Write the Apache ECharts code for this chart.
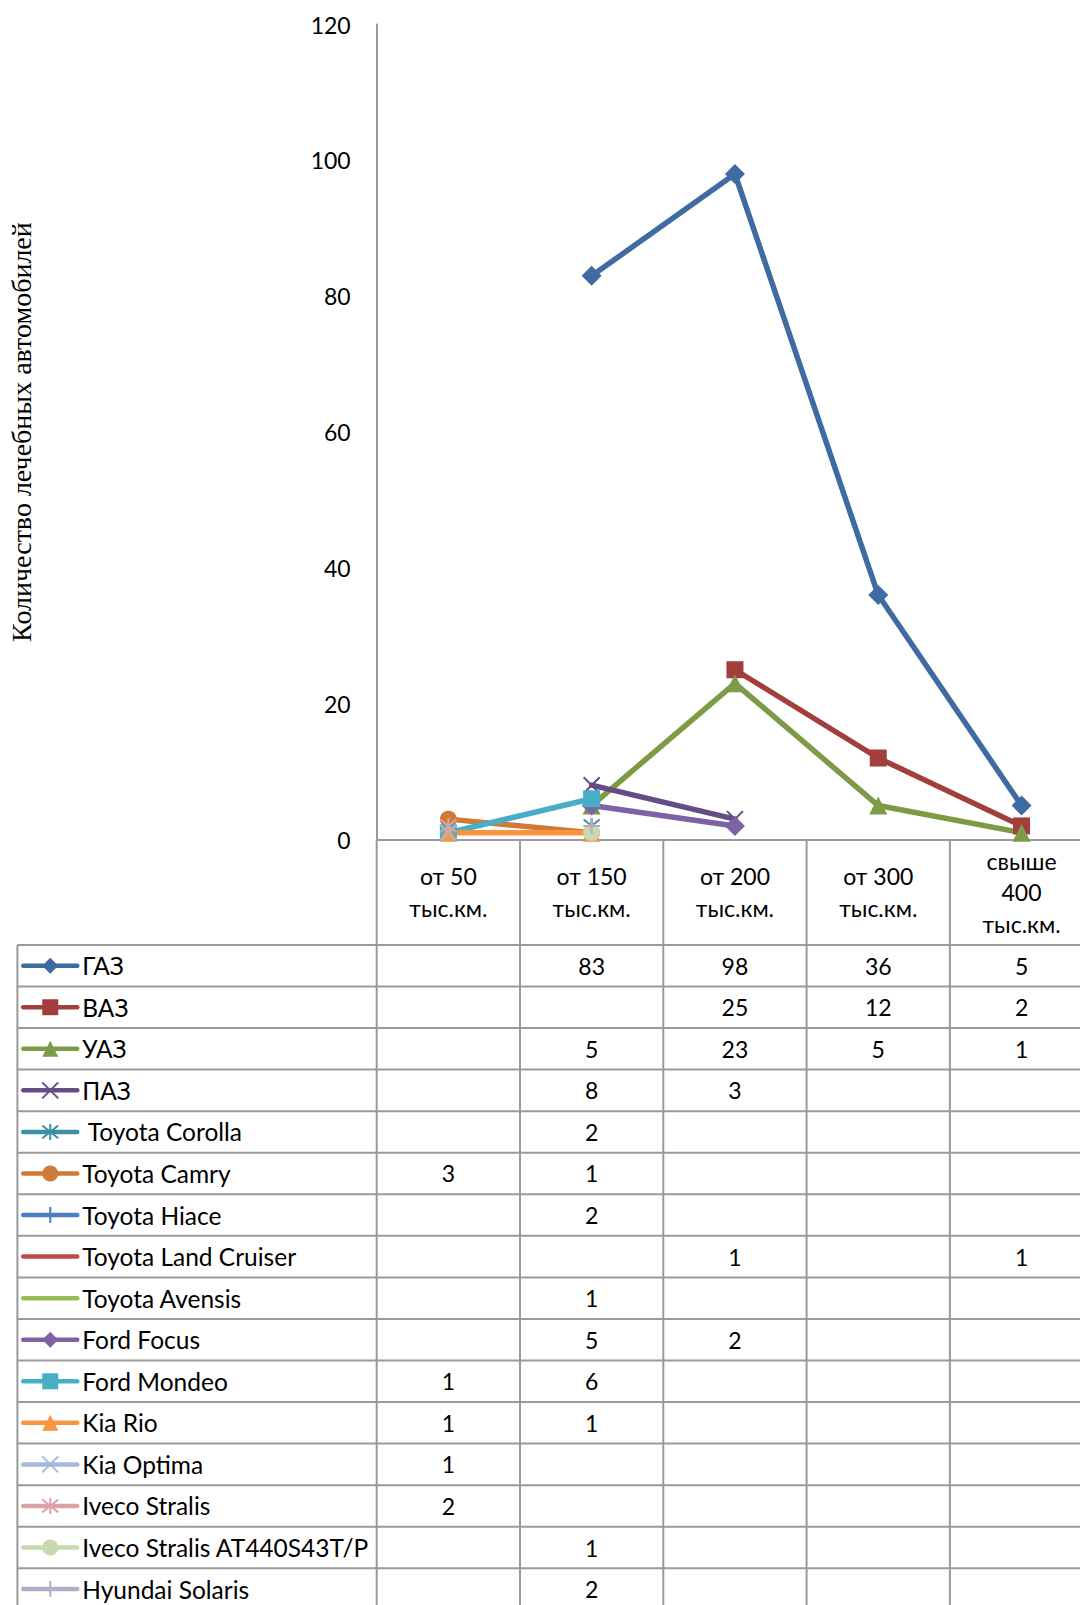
<!DOCTYPE html>
<html>
<head>
<meta charset="utf-8">
<title>Количество лечебных автомобилей</title>
<script src="https://cdn.jsdelivr.net/npm/echarts@6/dist/echarts.min.js"></script>
<style>
  html, body { margin: 0; padding: 0; background: #fff; }
  #chart { width: 1080px; height: 1605px; }
</style>
</head>
<body>
<div id="chart"></div>
<script>
// категории пробега
var categories = ['от 50\nтыс.км.', 'от 150\nтыс.км.', 'от 200\nтыс.км.', 'от 300\nтыс.км.', 'свыше\n400\nтыс.км.'];
var yTicks = { min: 0, max: 120, interval: 20 };

var names = ['ГАЗ', 'ВАЗ', 'УАЗ', 'ПАЗ', ' Toyota Corolla', 'Toyota Camry', 'Toyota Hiace',
  'Toyota Land Cruiser', 'Toyota Avensis', 'Ford Focus', 'Ford Mondeo', 'Kia Rio',
  'Kia Optima', 'Iveco Stralis', 'Iveco Stralis AT440S43T/P', 'Hyundai Solaris'];

var gaz          = [null, 83, 98, 36, 5];
var vaz          = [null, null, 25, 12, 2];
var uaz          = [null, 5, 23, 5, 1];
var paz          = [null, 8, 3, null, null];
var corolla      = [null, 2, null, null, null];
var camry        = [3, 1, null, null, null];
var hiace        = [null, 2, null, null, null];
var landCruiser  = [null, null, 1, null, 1];
var avensis      = [null, 1, null, null, null];
var focus        = [null, 5, 2, null, null];
var mondeo       = [1, 6, null, null, null];
var kiaRio       = [1, 1, null, null, null];
var kiaOptima    = [1, null, null, null, null];
var iveco        = [2, null, null, null, null];
var ivecoAT      = [null, 1, null, null, null];
var solaris      = [null, 2, null, null, null];

var values = [gaz, vaz, uaz, paz, corolla, camry, hiace, landCruiser, avensis,
  focus, mondeo, kiaRio, kiaOptima, iveco, ivecoAT, solaris];

// оформление
var colors = ['#3e6ba2', '#a23e3c', '#7d9a46', '#644c84', '#3a8fa5', '#cf7b37', '#4a7ec0',
  '#bf4b48', '#98ba55', '#7e62a3', '#48adc6', '#f7963f', '#a6b8d9', '#daa3a2', '#c8d9b0', '#b7abcb'];

var X_PATH = 'path://M0,0L10,10M10,0L0,10';
var STAR_PATH = 'path://M1,1L9,9M9,1L1,9M5,0L5,10';
var PLUS_PATH = 'path://M5,0L5,10M0,5L10,5';
var markers = [
  ['diamond', 20], ['rect', 17], ['triangle', 18], [X_PATH, 16], [STAR_PATH, 16], ['circle', 17], [PLUS_PATH, 16],
  ['none', 0], ['none', 0],
  ['diamond', 20], ['rect', 17], ['triangle', 18], [X_PATH, 16], [STAR_PATH, 16], ['circle', 17], [PLUS_PATH, 16]
];

var X0 = 376.7, Y0 = 839.5, TOP = 24.6, CW = 143.3;
var T0 = 944.9, RH = 41.56, TL = 17.4, W = 1080, H = 1605;
var GRID_LINE = '#9a9a9a';

var series = names.map(function (n, i) {
  var m = markers[i];
  var isPath = m[0].indexOf('path://') === 0;
  return {
    name: n,
    type: 'line',
    data: values[i],
    color: colors[i],
    symbol: m[0],
    symbolSize: m[1],
    showAllSymbol: true,
    lineStyle: { width: 5.5, color: colors[i], cap: 'round' },
    itemStyle: isPath ? { color: colors[i], borderColor: colors[i], borderWidth: 2 } : { color: colors[i] },
    emphasis: { disabled: true }
  };
});

// таблица данных
var graphics = [];
function hline(y) {
  graphics.push({ type: 'line', shape: { x1: TL, y1: y, x2: W, y2: y }, style: { stroke: GRID_LINE, lineWidth: 2 }, silent: true });
}
function vline(x, y1) {
  graphics.push({ type: 'line', shape: { x1: x, y1: y1, x2: x, y2: H }, style: { stroke: GRID_LINE, lineWidth: 2 }, silent: true });
}
for (var r = 0; r <= names.length; r++) {
  if (T0 + r * RH < H) hline(T0 + r * RH);
}
vline(TL, T0);
for (var k = 0; k < categories.length; k++) vline(X0 + k * CW, Y0);

values.forEach(function (row, r) {
  row.forEach(function (v, c) {
    if (v == null) return;
    graphics.push({
      type: 'text', silent: true,
      x: X0 + (c + 0.5) * CW, y: T0 + (r + 0.5) * RH,
      style: { text: String(v), fill: '#000', font: '23px Lato', align: 'center', verticalAlign: 'middle' }
    });
  });
});

var ICON_H = 20, ITEM_H = 25;
var chart = echarts.init(document.getElementById('chart'), null, { renderer: 'svg' });
chart.setOption({
  animation: false,
  grid: { left: X0, top: TOP, width: CW * categories.length, height: Y0 - TOP, containLabel: false, outerBoundsMode: 'none' },
  xAxis: {
    type: 'category',
    data: categories,
    boundaryGap: true,
    axisLine: { lineStyle: { color: GRID_LINE, width: 2 } },
    axisTick: { show: false },
    axisLabel: { color: '#000', fontFamily: 'Lato', fontSize: 23, lineHeight: 31.5, margin: (T0 - Y0) / 2, verticalAlign: 'middle', interval: 0 }
  },
  yAxis: {
    type: 'value',
    min: yTicks.min, max: yTicks.max, interval: yTicks.interval,
    name: 'Количество лечебных автомобилей',
    nameLocation: 'middle',
    nameRotate: 90,
    nameGap: X0 - 35,
    nameTextStyle: { color: '#000', fontFamily: 'Liberation Serif', fontSize: 28 },
    axisLine: { show: true, lineStyle: { color: GRID_LINE, width: 2 } },
    axisTick: { show: false },
    splitLine: { show: false },
    axisLabel: { color: '#000', fontFamily: 'Lato', fontSize: 23, margin: 26 }
  },
  legend: {
    orient: 'vertical',
    left: 21,
    top: T0 + RH / 2 - ITEM_H / 2,
    padding: 0,
    itemWidth: 54,
    itemHeight: ICON_H,
    itemGap: RH - ITEM_H,
    selectedMode: false,
    lineStyle: { width: 4.5, cap: 'round' },
    textStyle: { color: '#000', fontFamily: 'Lato', fontSize: 24.5, lineHeight: ITEM_H },
    data: names.map(function (n, i) {
      return markers[i][0] === 'none' ? { name: n, itemStyle: { opacity: 0 } } : { name: n };
    })
  },
  graphic: graphics,
  series: series
});
</script>
</body>
</html>
